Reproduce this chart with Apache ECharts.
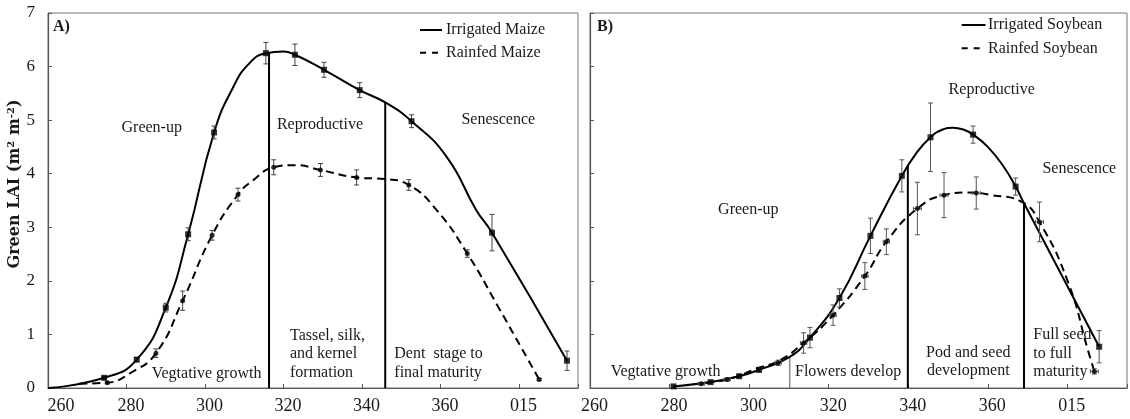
<!DOCTYPE html>
<html><head><meta charset="utf-8">
<script src="https://cdn.jsdelivr.net/npm/echarts@6/dist/echarts.min.js"></script>
<style>html,body{margin:0;padding:0;background:#fff}#c{width:1130px;height:419px}</style>
</head><body><div id="c"></div>
<script>
// ---------- axis ticks ----------
const xTickValues = [260, 280, 300, 320, 340, 360, 380];
const xTickLabels = ['260', '280', '300', '320', '340', '360', '015'];
const yTickValues = [0, 1, 2, 3, 4, 5, 6, 7];

// ---------- A) Maize: fitted curves ----------
const maizeIrrCurveX = [260, 274.3, 282.6, 290, 295.7, 302.3, 307.2, 311.4, 315.5, 320, 322.9, 330.3, 339.4, 345.9, 352.6, 361.5, 369.1, 373.1, 392.2];
const maizeIrrCurveY = [0, 0.19, 0.53, 1.5, 2.87, 4.77, 5.62, 6.07, 6.25, 6.28, 6.22, 5.94, 5.56, 5.33, 4.98, 4.32, 3.32, 2.9, 0.51];
const maizeRfCurveX = [268, 275.1, 281, 287.5, 294.3, 301.8, 308.4, 312.3, 317.5, 323, 329.4, 338.6, 345.9, 351.9, 359, 366.8, 374.4, 385.1];
const maizeRfCurveY = [0.08, 0.10, 0.28, 0.65, 1.63, 2.85, 3.61, 3.88, 4.12, 4.16, 4.07, 3.93, 3.9, 3.79, 3.32, 2.51, 1.55, 0.16];

// ---------- A) Maize: measured points ----------
const maizeIrrX = [274.3, 282.6, 290, 295.7, 302.3, 315.5, 322.9, 330.3, 339.4, 352.6, 373.1, 392.2];
const maizeIrrY = [0.19, 0.53, 1.50, 2.87, 4.77, 6.25, 6.22, 5.94, 5.56, 4.98, 2.90, 0.51];
const maizeIrrErr = [0.03, 0.04, 0.08, 0.12, 0.12, 0.20, 0.20, 0.14, 0.14, 0.12, 0.34, 0.18];
const maizeRfX = [275.1, 287.5, 294.3, 301.8, 308.4, 317.5, 329.4, 338.6, 351.9, 366.8, 385.1];
const maizeRfY = [0.10, 0.65, 1.63, 2.85, 3.61, 4.12, 4.07, 3.93, 3.79, 2.51, 0.16];
const maizeRfErr = [0.02, 0.08, 0.18, 0.09, 0.12, 0.14, 0.12, 0.14, 0.10, 0.07, 0.02];

// ---------- A) Maize: stage boundaries ----------
const maizeStageX = [316.3, 345.9];
const maizeStageTop = [6.26, 5.33];

// ---------- B) Soybean: fitted curves ----------
const soyIrrCurveX = [281, 290.3, 297.5, 302.5, 310.2, 315.3, 322.7, 330.5, 338.4, 342, 345.6, 348.5, 351.3, 354, 356.3, 360, 364, 367, 369.1, 388];
const soyIrrCurveY = [0.03, 0.11, 0.22, 0.34, 0.58, 0.94, 1.68, 2.84, 3.96, 4.38, 4.68, 4.82, 4.86, 4.82, 4.73, 4.5, 4.13, 3.76, 3.45, 0.77];
const soyRfCurveX = [286, 294.5, 302.5, 307.3, 313.7, 321.1, 329.1, 334.5, 342.3, 349, 355, 361, 368.4, 373, 380.3, 385.2, 386.8];
const soyRfCurveY = [0.07, 0.16, 0.38, 0.50, 0.84, 1.36, 2.09, 2.73, 3.35, 3.60, 3.65, 3.6, 3.48, 3.10, 1.95, 0.7, 0.31];

// ---------- B) Soybean: measured points ----------
const soyIrrX = [281, 290.3, 297.5, 302.5, 315.3, 322.7, 330.5, 338.4, 345.6, 356.3, 367, 388];
const soyIrrY = [0.03, 0.11, 0.22, 0.34, 0.94, 1.68, 2.84, 3.96, 4.68, 4.73, 3.76, 0.77];
const soyIrrErr = [0.02, 0.02, 0.03, 0.04, 0.19, 0.17, 0.33, 0.30, 0.64, 0.16, 0.16, 0.30];
const soyRfX = [288, 294.5, 307.3, 313.7, 321.1, 329.1, 334.5, 342.3, 349, 357.1, 373, 386.8];
const soyRfY = [0.08, 0.16, 0.47, 0.84, 1.36, 2.09, 2.73, 3.35, 3.60, 3.64, 3.10, 0.31];
const soyRfErr = [0.02, 0.03, 0.05, 0.19, 0.19, 0.25, 0.24, 0.49, 0.42, 0.30, 0.37, 0.05];
const soyRfDayErr = [0.8, 0.8, 0.8, 0.8, 0.8, 0.8, 0.8, 1, 1, 1, 1, 1];

// ---------- B) Soybean: stage boundaries ----------
const soyStageX = [339.9, 369.1];
const soyStageTop = [4.15, 3.45];
const soyMinorStageX = [310.2];
const soyMinorStageTop = [0.58];

// ---------- helpers ----------
const zip = (a, b) => a.map((v, i) => [v, b[i]]);
const SERIF = 'Liberation Serif';
const TXT = '#1a1a1a';

function xLabelFormatter(special) {
  return function (v) {
    const i = xTickValues.indexOf(Math.round(v * 1000) / 1000);
    if (i < 0) return '';
    if (special && i === 0) return '{m|' + xTickLabels[i] + '}';
    return '{n|' + xTickLabels[i] + '}';
  };
}
const xRich = {
  m: { fontFamily: SERIF, fontSize: 18, color: TXT, padding: [0, 0, 0, 26] },
  n: { fontFamily: SERIF, fontSize: 18, color: TXT, padding: [0, 0, 0, 9] }
};

function makeX(gi, special) {
  return {
    type: 'value', gridIndex: gi, min: 260, max: 395, interval: 20,
    axisLine: { show: true, lineStyle: { color: '#555', width: 1.2 } },
    axisTick: { show: true, inside: true, length: 4, lineStyle: { color: '#555' } },
    axisLabel: { formatter: xLabelFormatter(special), rich: xRich, margin: 9 },
    splitLine: { show: false }
  };
}
function makeY(gi, showLabels) {
  return {
    type: 'value', gridIndex: gi, min: 0, max: 7, interval: 1,
    axisLine: { show: true, lineStyle: { color: '#555', width: 1.2 } },
    axisTick: { show: true, inside: true, length: 4, lineStyle: { color: '#555' } },
    axisLabel: {
      show: showLabels, fontFamily: SERIF, fontSize: 17, color: TXT, margin: 13,
      formatter: v => (yTickValues.indexOf(v) >= 0 ? String(v) : '')
    },
    splitLine: { show: false }
  };
}

function curve(name, gi, xs, ys, dashed) {
  return {
    name, type: 'line', xAxisIndex: gi, yAxisIndex: gi,
    data: zip(xs, ys), smooth: 0.5,
    symbol: 'none', silent: true, z: 3,
    lineStyle: { color: '#000', width: 2, type: dashed ? [8, 5] : 'solid' }
  };
}
function points(gi, xs, ys, shape, size) {
  return {
    type: 'scatter', xAxisIndex: gi, yAxisIndex: gi,
    data: zip(xs, ys), symbol: shape, symbolSize: size, z: 6, silent: true,
    itemStyle: { color: '#000' }
  };
}
function errBars(gi, xs, ys, ye, xe, color) {
  return {
    type: 'custom', xAxisIndex: gi, yAxisIndex: gi, z: 4, silent: true,
    data: xs.map((x, i) => [x, ys[i], ye[i], xe ? xe[i] : 0]),
    encode: { x: 0, y: 1 },
    renderItem: function (params, api) {
      const x = api.value(0), y = api.value(1), e = api.value(2), h = api.value(3);
      const ch = [];
      const st = { stroke: color, lineWidth: 1 };
      const cap = 2.5;
      if (e > 0) {
        const t = api.coord([x, y + e]), b = api.coord([x, y - e]);
        ch.push({ type: 'line', shape: { x1: t[0], y1: t[1], x2: b[0], y2: b[1] }, style: st });
        ch.push({ type: 'line', shape: { x1: t[0] - cap, y1: t[1], x2: t[0] + cap, y2: t[1] }, style: st });
        ch.push({ type: 'line', shape: { x1: b[0] - cap, y1: b[1], x2: b[0] + cap, y2: b[1] }, style: st });
      }
      if (h > 0) {
        const l = api.coord([x - h, y]), r = api.coord([x + h, y]);
        ch.push({ type: 'line', shape: { x1: l[0], y1: l[1], x2: r[0], y2: r[1] }, style: st });
        ch.push({ type: 'line', shape: { x1: l[0], y1: l[1] - 2, x2: l[0], y2: l[1] + 2 }, style: st });
        ch.push({ type: 'line', shape: { x1: r[0], y1: r[1] - 2, x2: r[0], y2: r[1] + 2 }, style: st });
      }
      return { type: 'group', children: ch };
    }
  };
}
function stageLines(gi, xs, tops, color, width) {
  return {
    type: 'custom', xAxisIndex: gi, yAxisIndex: gi, z: 2, silent: true,
    data: zip(xs, tops), encode: { x: 0, y: 1 },
    renderItem: function (params, api) {
      const x = api.value(0), t = api.value(1);
      const a = api.coord([x, 0]), b = api.coord([x, t]);
      return { type: 'line', shape: { x1: a[0], y1: a[1], x2: b[0], y2: b[1] }, style: { stroke: color, lineWidth: width } };
    }
  };
}

function txt(x, y, text, opts) {
  return {
    type: 'text', x, y, z: 10, silent: true,
    style: Object.assign({ text, fontFamily: SERIF, fontSize: 16, fill: TXT, align: 'left', verticalAlign: 'middle', lineHeight: 18.5 }, opts || {})
  };
}
function legLine(x1, x2, y, dashed) {
  return { type: 'line', z: 10, silent: true, shape: { x1, y1: y, x2, y2: y },
    style: { stroke: '#000', lineWidth: 2, lineDash: dashed ? [6, 6] : null } };
}

const chart = echarts.init(document.getElementById('c'), null, { renderer: 'canvas' });
chart.setOption({
  animation: false,
  backgroundColor: '#fff',
  grid: [
    { left: 48, top: 13, width: 530, height: 375, show: true, borderColor: '#777', borderWidth: 1, backgroundColor: 'transparent' },
    { left: 590, top: 13, width: 542, height: 375, show: true, borderColor: '#777', borderWidth: 1, backgroundColor: 'transparent' }
  ],
  xAxis: [makeX(0, true), makeX(1, false)],
  yAxis: [makeY(0, true), makeY(1, false)],
  series: [
    stageLines(0, maizeStageX, maizeStageTop, '#000', 2),
    curve('Irrigated Maize', 0, maizeIrrCurveX, maizeIrrCurveY, false),
    curve('Rainfed Maize', 0, maizeRfCurveX, maizeRfCurveY, true),
    errBars(0, maizeIrrX, maizeIrrY, maizeIrrErr, null, '#444'),
    errBars(0, maizeRfX, maizeRfY, maizeRfErr, null, '#444'),
    points(0, maizeIrrX, maizeIrrY, 'rect', 6),
    points(0, maizeRfX, maizeRfY, 'circle', 5),

    stageLines(1, soyMinorStageX, soyMinorStageTop, '#888', 1.5),
    stageLines(1, soyStageX, soyStageTop, '#000', 2),
    curve('Irrigated Soybean', 1, soyIrrCurveX, soyIrrCurveY, false),
    curve('Rainfed Soybean', 1, soyRfCurveX, soyRfCurveY, true),
    errBars(1, soyIrrX, soyIrrY, soyIrrErr, null, '#555'),
    errBars(1, soyRfX, soyRfY, soyRfErr, soyRfDayErr, '#555'),
    points(1, soyIrrX, soyIrrY, 'rect', 6),
    points(1, soyRfX, soyRfY, 'circle', 5)
  ],
  graphic: [
    {
      type: 'text', x: 15, y: 184, rotation: Math.PI / 2, silent: true,
      style: {
        text: '{b|Green LAI (m}{s|2}{b| m}{s|-2}{b|)}', align: 'center', verticalAlign: 'middle',
        rich: {
          b: { fontFamily: 'DejaVu Serif', fontWeight: 'bold', fontSize: 16, fill: TXT, lineHeight: 18 },
          s: { fontFamily: 'DejaVu Serif', fontWeight: 'bold', fontSize: 10, fill: TXT, verticalAlign: 'top', lineHeight: 12 }
        }
      }
    },
    // Panel A
    txt(53, 27, 'A)', { fontWeight: 'bold' }),
    txt(151.7, 128, 'Green-up', { align: 'center' }),
    txt(320, 125, 'Reproductive', { align: 'center' }),
    txt(498.3, 120, 'Senescence', { align: 'center' }),
    txt(151.7, 373.3, 'Vegtative growth'),
    txt(290, 354, 'Tassel, silk,\nand kernel\nformation'),
    txt(394.3, 363.2, 'Dent  stage to\nfinal maturity'),
    legLine(420, 442, 30, false),
    legLine(420, 442, 52.7, true),
    txt(446, 30, 'Irrigated Maize'),
    txt(446, 52.7, 'Rainfed Maize'),
    // Panel B
    txt(597, 27, 'B)', { fontWeight: 'bold' }),
    txt(748.3, 209.3, 'Green-up', { align: 'center' }),
    txt(991.7, 90, 'Reproductive', { align: 'center' }),
    txt(1079.3, 168.3, 'Senescence', { align: 'center' }),
    txt(610.7, 372, 'Vegtative growth'),
    txt(795, 372, 'Flowers develop'),
    txt(968.3, 361.7, 'Pod and seed\ndevelopment', { align: 'center' }),
    txt(1033.3, 353.3, 'Full seed\nto full\nmaturity'),
    legLine(961.7, 985.5, 25, false),
    legLine(961.7, 985.5, 48.3, true),
    txt(988, 25, 'Irrigated Soybean'),
    txt(988, 48.3, 'Rainfed Soybean')
  ]
});
</script>
</body></html>
